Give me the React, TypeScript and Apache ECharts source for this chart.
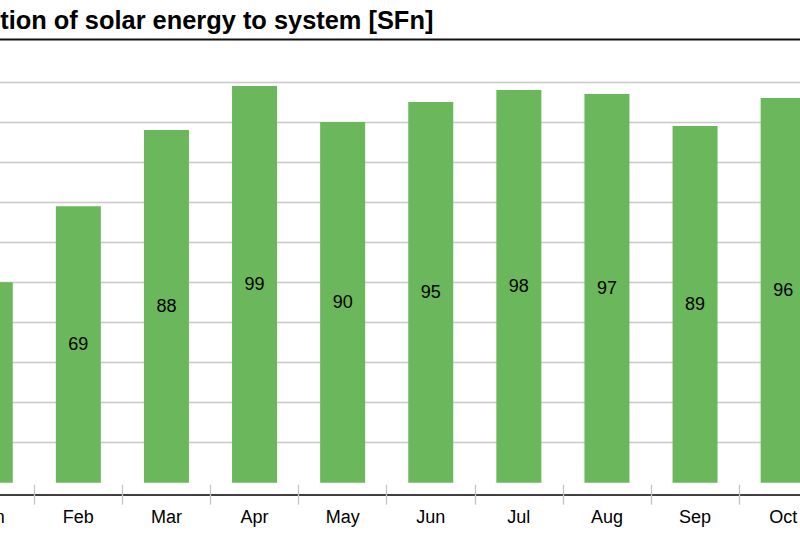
import React, { useEffect, useRef } from "react";
import * as echarts from "echarts";

const TITLE = "Fraction of solar energy to system [SFn]";
const MONTHS = ["Jan", "Feb", "Mar", "Apr", "May", "Jun", "Jul", "Aug", "Sep", "Oct"];
const SFN = [50, 69, 88, 99, 90, 95, 98, 97, 89, 96];

const FONT = "'Liberation Sans', Arial, sans-serif";

export default function App() {
  const ref = useRef<HTMLDivElement>(null);
  useEffect(() => {
    document.body.style.margin = "0";
    if (!ref.current) return;
    const chart = echarts.init(ref.current, undefined, { renderer: "svg" });
    const gridLeft = -53.8;
    const catW = 88.1;
    chart.setOption({
      animation: false,
      backgroundColor: "#ffffff",
      textStyle: { fontFamily: FONT },
      grid: {
        left: gridLeft,
        top: 82,
        width: catW * MONTHS.length,
        height: 400.7,
        containLabel: false,
        outerBoundsMode: "none",
      },
      graphic: [
        {
          type: "text",
          x: -53.4,
          y: 20,
          style: {
            text: TITLE,
            font: `bold 25.4px ${FONT}`,
            fill: "#000",
            verticalAlign: "middle",
            align: "left",
          },
        },
        {
          type: "line",
          shape: { x1: 0, y1: 39.5, x2: 800, y2: 39.5 },
          style: { stroke: "#111", lineWidth: 2 },
        },
      ],
      xAxis: [
        {
          type: "category",
          data: MONTHS,
          position: "bottom",
          offset: 12,
          axisLine: { show: true, onZero: false, lineStyle: { color: "#000", width: 1.6 } },
          axisTick: { show: true, length: 10, inside: false, lineStyle: { color: "#c4c4c4", width: 1.3 } },
          axisLabel: { show: true, margin: 13, fontSize: 18, color: "#000", fontFamily: FONT },
          splitLine: { show: false },
        },
        {
          type: "category",
          data: MONTHS,
          position: "bottom",
          offset: 12,
          axisLine: { show: false, onZero: false },
          axisTick: { show: true, length: 10, inside: true, lineStyle: { color: "#c4c4c4", width: 1.3 } },
          axisLabel: { show: false },
          splitLine: { show: false },
        },
      ],
      yAxis: {
        type: "value",
        min: 0,
        max: 100,
        interval: 10,
        axisLine: { show: false },
        axisTick: { show: false },
        axisLabel: { show: false },
        splitLine: { show: true, showMinLine: false, lineStyle: { color: "#c8c8c8", width: 1.4 } },
      },
      series: [
        {
          type: "bar",
          xAxisIndex: 0,
          data: SFN,
          barWidth: 45,
          itemStyle: { color: "#6bb75b" },
          label: {
            show: true,
            position: "inside",
            color: "#000",
            fontSize: 18,
            fontFamily: FONT,
          },
        },
      ],
    });
    return () => chart.dispose();
  }, []);
  return <div ref={ref} style={{ width: 800, height: 546 }} />;
}
